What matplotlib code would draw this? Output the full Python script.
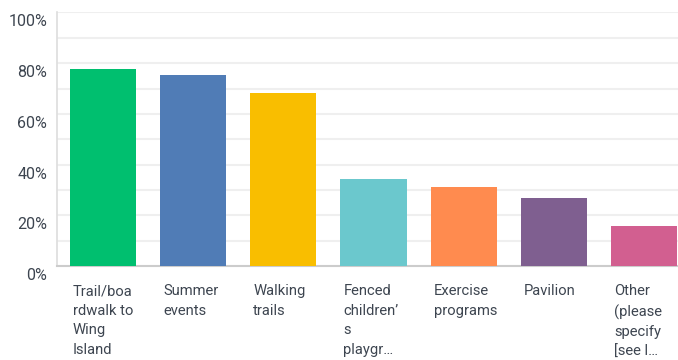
import matplotlib.pyplot as plt
import matplotlib.transforms as mtransforms

categories = [
    "Trail/boa\nrdwalk to\nWing\nIsland",
    "Summer\nevents",
    "Walking\ntrails",
    "Fenced\nchildren’\ns\nplaygr…",
    "Exercise\nprograms",
    "Pavilion",
    "Other\n(please\nspecify\n[see l…",
]
percentages = [77.7, 75.3, 68.2, 34.3, 31.2, 26.8, 15.8]
colors = ["#00bf6f", "#507cb6", "#f9be00", "#6bc8cd", "#ff8b4f", "#7f5f90", "#d25f90"]
y_ticks = [0, 20, 40, 60, 80, 100]
y_tick_labels = ["0%", "20%", "40%", "60%", "80%", "100%"]

plt.rcParams['font.family'] = ['Roboto', 'DejaVu Sans']
text_color = "#3d4550"

fig = plt.figure(figsize=(6.78, 3.6), dpi=100)
ax = fig.add_axes([57 / 678, 94 / 360, 621 / 678, 253.5 / 360])

x = list(range(len(categories)))
bar_width = 0.733
ax.bar(x, percentages, width=bar_width, color=colors, zorder=3)

ax.set_xlim(-0.511, 6.378)
ax.set_ylim(0, 100)

# light grid every 10%
for v in range(10, 101, 10):
    ax.axhline(v, color="#efefef", linewidth=1.5, zorder=1)

ax.set_yticks(y_ticks)
ax.set_yticklabels(y_tick_labels, fontsize=11.5, color=text_color)
ax.tick_params(axis='y', length=0, pad=7)
ax.set_xticks([])

# nudge the y labels down a little below their gridlines
shift = mtransforms.ScaledTranslation(0, -8 / 100, fig.dpi_scale_trans)
for lbl in ax.get_yticklabels():
    lbl.set_transform(lbl.get_transform() + shift)

for side in ['top', 'right']:
    ax.spines[side].set_visible(False)
ax.spines['left'].set_color("#dddddd")
ax.spines['left'].set_linewidth(1.2)
ax.spines['bottom'].set_color("#cccccc")
ax.spines['bottom'].set_linewidth(1.5)

# wrapped category labels, left-aligned under each bar
label_offset = mtransforms.ScaledTranslation(3 / 100, -18 / 100, fig.dpi_scale_trans)
blend = mtransforms.blended_transform_factory(ax.transData, ax.transAxes)
for xi, name in zip(x, categories):
    ax.text(xi - bar_width / 2, 0, name, transform=blend + label_offset,
            ha='left', va='top', fontsize=10.6, color=text_color, linespacing=1.52)

fig.savefig("out.png", dpi=100)
